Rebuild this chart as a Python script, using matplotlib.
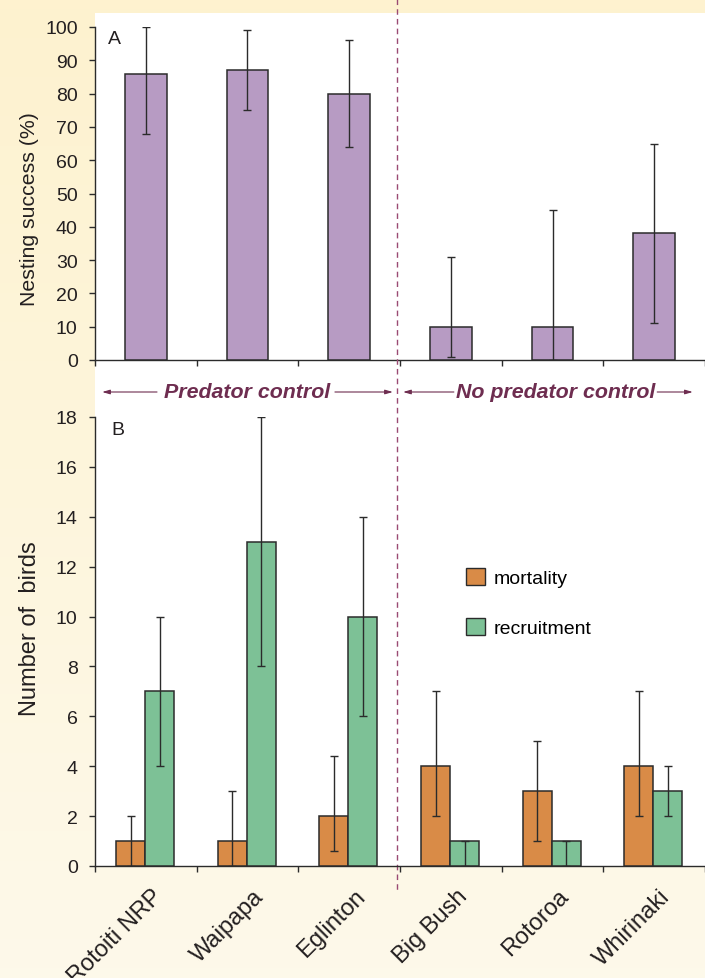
import numpy as np
import matplotlib.pyplot as plt
import matplotlib.transforms as mtrans
from matplotlib.colors import LinearSegmentedColormap
from matplotlib.patches import Patch

plt.rcParams["font.family"] = ["Liberation Sans", "DejaVu Sans"]

# ── Data ────────────────────────────────────────────────────────────────────
sites       = ["Rotoiti NRP", "Waipapa", "Eglinton", "Big Bush", "Rotoroa", "Whirinaki"]
nest_succ   = [86, 87, 80, 10, 10, 38]
nest_lo     = [68, 75, 64, 1, 0, 11]
nest_hi     = [100, 99, 96, 31, 45, 65]

mortality   = [1, 1, 2, 4, 3, 4]
mort_lo     = [0, 0, 0.6, 2, 1, 2]
mort_hi     = [2, 3, 4.4, 7, 5, 7]

recruitment = [7, 13, 10, 1, 1, 3]
recr_lo     = [4, 8, 6, 0, 0, 2]
recr_hi     = [10, 18, 14, 1, 1, 4]

# ── Style ───────────────────────────────────────────────────────────────────
W, H      = 705, 979
C_PURPLE  = "#B79BC3"
C_ORANGE  = "#D98B47"
C_GREEN   = "#7DC196"
C_EDGE    = "#2B2B2B"
C_TEXT    = "#231F20"
C_MAROON  = "#6E2D50"
C_CREAM_T = "#FEF2CF"
C_CREAM_B = "#FDF9EA"

x = np.arange(len(sites))
XLIM = (-0.5, 5.39)

fig = plt.figure(figsize=(W / 100, H / 100), dpi=100)

# background (pixel coordinates)
bg = fig.add_axes([0, 0, 1, 1], zorder=-10)
bg.axis("off")
cream = LinearSegmentedColormap.from_list("cream", [C_CREAM_T, C_CREAM_B])
bg.imshow(np.linspace(0, 1, 100).reshape(-1, 1), cmap=cream, aspect="auto",
          extent=(0, W, H, 0))
bg.add_patch(plt.Rectangle((95, 14), W - 95, 867 - 14, color="white", lw=0))
shade = LinearSegmentedColormap.from_list("shade", ["#FFFFFF", "#E8DED7"])
bg.imshow(np.linspace(0, 1, 100).reshape(-1, 1), cmap=shade, aspect="auto",
          extent=(95, 403, 867, 14))
bg.set_xlim(0, W)
bg.set_ylim(H, 0)


def px_axes(left, top, right, bottom):
    return fig.add_axes([left / W, 1 - bottom / H, (right - left) / W, (bottom - top) / H])


def style_axes(ax):
    ax.set_facecolor("none")
    for s in ["top", "right"]:
        ax.spines[s].set_visible(False)
    for s in ["left", "bottom"]:
        ax.spines[s].set_color(C_EDGE)
        ax.spines[s].set_linewidth(1.0)
    ax.set_xlim(*XLIM)
    ax.set_xticks(np.arange(-0.5, 6, 1.0))
    ax.set_xticklabels([])
    ax.tick_params(axis="both", direction="out", length=4.5, width=1.0,
                   color=C_EDGE, labelsize=14, labelcolor=C_TEXT, pad=8)


err_kw = dict(ecolor=C_EDGE, elinewidth=1.0, capsize=2.6, capthick=1.0)

# ── Panel A ─────────────────────────────────────────────────────────────────
axA = px_axes(95, 28, W, 361)
style_axes(axA)
yerrA = [np.subtract(nest_succ, nest_lo), np.subtract(nest_hi, nest_succ)]
axA.bar(x, nest_succ, width=0.41, color=C_PURPLE, edgecolor=C_EDGE, lw=1.1,
        yerr=yerrA, error_kw=err_kw, zorder=3)
axA.set_ylim(0, 100)
axA.set_yticks(range(0, 101, 10))
axA.set_ylabel("Nesting success (%)", fontsize=15.3, color=C_TEXT)
axA.yaxis.set_label_coords(-0.092, 0.455)
axA.text(0.022, 0.99, "A", transform=axA.transAxes, fontsize=14, color=C_TEXT,
         va="top", ha="left")

# ── Panel B ─────────────────────────────────────────────────────────────────
axB = px_axes(95, 418, W, 867)
style_axes(axB)
bw = 0.285
yerrM = [np.subtract(mortality, mort_lo), np.subtract(mort_hi, mortality)]
yerrR = [np.subtract(recruitment, recr_lo), np.subtract(recr_hi, recruitment)]
axB.bar(x - bw / 2 - 0.007, mortality, width=bw, color=C_ORANGE, edgecolor=C_EDGE,
        lw=1.1, yerr=yerrM, error_kw=err_kw, zorder=3, label="mortality")
axB.bar(x + bw / 2 - 0.007, recruitment, width=bw, color=C_GREEN, edgecolor=C_EDGE,
        lw=1.1, yerr=yerrR, error_kw=err_kw, zorder=3, label="recruitment")
axB.set_ylim(0, 18)
axB.set_yticks(range(0, 19, 2))
axB.set_ylabel("Number of  birds", fontsize=17, color=C_TEXT)
axB.yaxis.set_label_coords(-0.088, 0.53)
axB.text(0.027, 0.99, "B", transform=axB.transAxes, fontsize=14, color=C_TEXT,
         va="top", ha="left")

handles = [Patch(facecolor=C_ORANGE, edgecolor=C_EDGE, lw=1.0),
           Patch(facecolor=C_GREEN, edgecolor=C_EDGE, lw=1.0)]
axB.legend(handles, ["mortality", "recruitment"], loc="upper left",
           bbox_to_anchor=(0.608, 0.664), frameon=False, fontsize=14,
           handlelength=1.0, handleheight=1.0, handletextpad=0.45,
           labelspacing=1.58, borderaxespad=0, borderpad=0)

# site labels, rotated
lbl_tr = mtrans.blended_transform_factory(axB.transData, fig.transFigure)
for xi, s in zip(x, sites):
    axB.text(xi + 0.05, 1 - 886 / H, s, transform=lbl_tr, rotation=45,
             rotation_mode="anchor", ha="right", va="top", fontsize=17,
             color=C_TEXT)

# ── Predator control divider & labels ──────────────────────────────────────
div_tr = mtrans.blended_transform_factory(axA.transData, fig.transFigure)
axA.plot([2.47, 2.47], [1.0, 1 - 893 / H], transform=div_tr, color="#9A4A73",
         ls=(0, (4, 3)), lw=1.0, clip_on=False, zorder=5)

y_lab = 1 - 393 / H
arrow_kw = dict(arrowstyle="-|>,head_length=0.45,head_width=0.13", color=C_MAROON, lw=0.8,
                shrinkA=0, shrinkB=0)
axA.text(1.0, y_lab, "Predator control", transform=div_tr, ha="center", va="center",
         fontsize=15.4, fontweight="bold", style="italic", color=C_MAROON)
axA.annotate("", xy=(-0.43, y_lab), xytext=(0.11, y_lab), xycoords=div_tr,
             textcoords=div_tr, arrowprops=arrow_kw)
axA.annotate("", xy=(2.43, y_lab), xytext=(1.86, y_lab), xycoords=div_tr,
             textcoords=div_tr, arrowprops=arrow_kw)
axA.text(4.03, y_lab, "No predator control", transform=div_tr, ha="center", va="center",
         fontsize=15.4, fontweight="bold", style="italic", color=C_MAROON)
axA.annotate("", xy=(2.53, y_lab), xytext=(3.03, y_lab), xycoords=div_tr,
             textcoords=div_tr, arrowprops=arrow_kw)
axA.annotate("", xy=(5.38, y_lab), xytext=(5.03, y_lab), xycoords=div_tr,
             textcoords=div_tr, arrowprops=arrow_kw)

fig.savefig("out.png", dpi=100)
